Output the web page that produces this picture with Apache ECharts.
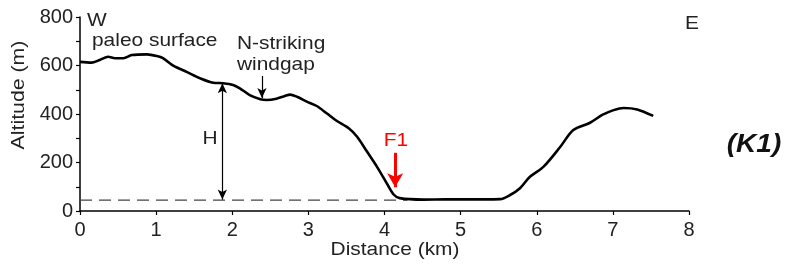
<!DOCTYPE html>
<html lang="en">
<head>
  <meta charset="UTF-8">
  <title>Topographic profile K1</title>
  <script src="https://cdn.jsdelivr.net/npm/echarts@6/dist/echarts.min.js"></script>
  <style>
    html, body { margin: 0; padding: 0; background: #fff; }
    #chart { width: 788px; height: 268px; }
  </style>
</head>
<body>
  <div id="chart"></div>
  <script>
    // profile (km, m)
    const distKm = [0, 0.15, 0.26, 0.37, 0.46, 0.57, 0.68, 0.88, 1.01, 1.09, 1.23, 1.40, 1.58, 1.75, 1.88,
      2.01, 2.10, 2.23, 2.37, 2.45, 2.58, 2.69, 2.76, 2.85, 2.98, 3.11, 3.24, 3.37, 3.53, 3.64, 3.77,
      3.90, 4.03, 4.12, 4.20, 4.51, 4.80, 5.30, 5.52, 5.65, 5.78, 5.91, 6.09, 6.31, 6.48, 6.70, 6.86,
      7.01, 7.14, 7.32, 7.53];
    const altM = [615, 612, 623, 636, 630, 630, 643, 646, 639, 630, 598, 574, 547, 529, 527,
      520, 506, 478, 461, 458, 463, 474, 480, 471, 451, 433, 403, 372, 341, 306, 245,
      183, 114, 68, 53, 47, 48, 48, 49, 66, 94, 141, 183, 265, 334, 364, 396,
      416, 425, 419, 392];

    const xTicks = [0, 1, 2, 3, 4, 5, 6, 7, 8];
    const yTicks = [0, 200, 400, 600, 800];

    // annotations
    const baseLine = [[0, 45], [4.3, 45]];
    const hArrow = [[1.87, 527], [1.87, 47]];
    const gapArrow = [[2.39, 557], [2.39, 466]];
    const f1Arrow = [[4.14, 240], [4.14, 98]];

    const FONT = 'Arial, "Liberation Sans", sans-serif';

    const chart = echarts.init(document.getElementById('chart'));

    function txt(text, x, y, opt) {
      opt = opt || {};
      return {
        type: 'text', x: x, y: y, scaleX: opt.scaleX || 1.1, rotation: opt.rotation || 0,
        silent: true,
        style: {
          text: text,
          font: (opt.style || 'normal') + ' ' + (opt.weight || 'normal') + ' ' + (opt.size || 19) + 'px ' + FONT,
          fill: opt.color || '#222',
          align: opt.align || 'left',
          verticalAlign: 'middle'
        }
      };
    }

    chart.setOption({
      animation: false,
      grid: { left: 80, right: 99, top: 17, bottom: 57 },
      xAxis: {
        type: 'value', min: xTicks[0], max: xTicks[xTicks.length - 1], interval: 1,
        axisLine: { lineStyle: { color: '#000', width: 1.5 } },
        axisTick: { length: 4, lineStyle: { color: '#000', width: 1.2 } },
        axisLabel: { color: '#222', fontSize: 20, fontFamily: FONT, margin: 9 },
        splitLine: { show: false }
      },
      yAxis: {
        type: 'value', min: yTicks[0], max: yTicks[yTicks.length - 1], interval: 200,
        axisLine: { show: true, lineStyle: { color: '#000', width: 1.5 } },
        axisTick: { show: true, length: 4, lineStyle: { color: '#000', width: 1.2 } },
        minorTick: { show: true, splitNumber: 2, length: 4, lineStyle: { color: '#000', width: 1.2 } },
        axisLabel: { color: '#222', fontSize: 20, fontFamily: FONT, margin: 7 },
        splitLine: { show: false }
      },
      graphic: [
        txt('W', 87, 21),
        txt('paleo surface', 92, 41),
        txt('N-striking', 237, 44),
        txt('windgap', 237, 65),
        txt('H', 210, 139, { align: 'center' }),
        txt('F1', 396, 141, { align: 'center', color: '#ff0000' }),
        txt('E', 692, 24, { align: 'center' }),
        txt('Distance (km)', 395, 250, { align: 'center' }),
        txt('Altitude (m)', 19, 95, { align: 'center', rotation: Math.PI / 2, scaleX: 1.12 }),
        txt('(K1)', 754, 145, { align: 'center', size: 25, weight: 'bold', style: 'italic', color: '#111', scaleX: 1.12 })
      ],
      series: [
        {
          type: 'line',
          data: baseLine,
          showSymbol: false,
          silent: true,
          lineStyle: { color: '#444', width: 1.3, type: [12, 7] },
          markLine: {
            silent: true,
            animation: false,
            label: { show: false },
            data: [
              [
                { coord: hArrow[0], symbol: 'arrow', symbolSize: [7, 10], lineStyle: { color: '#000', width: 1.2, type: 'solid' } },
                { coord: hArrow[1], symbol: 'arrow', symbolSize: [7, 10] }
              ],
              [
                { coord: gapArrow[0], symbol: 'none', lineStyle: { color: '#000', width: 1.2, type: 'solid' } },
                { coord: gapArrow[1], symbol: 'arrow', symbolSize: [7, 10] }
              ],
              [
                { coord: f1Arrow[0], symbol: 'none', lineStyle: { color: '#ff0000', width: 3, type: 'solid' } },
                { coord: f1Arrow[1], symbol: 'arrow', symbolSize: [12, 14], itemStyle: { color: '#ff0000' } }
              ]
            ]
          }
        },
        {
          type: 'line',
          data: distKm.map((d, i) => [d, altM[i]]),
          showSymbol: false,
          smooth: 0.3,
          silent: true,
          lineStyle: { color: '#000', width: 2.6 }
        }
      ]
    });

    window.onresize = () => chart.resize();
  </script>
</body>
</html>
